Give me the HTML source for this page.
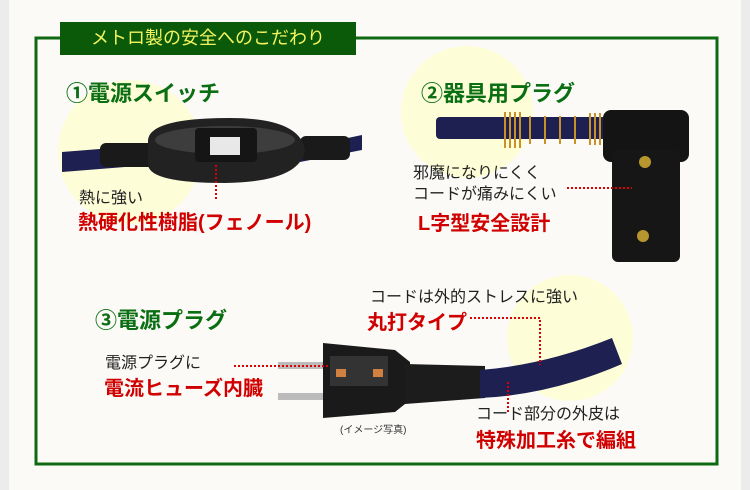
<!DOCTYPE html>
<html><head><meta charset="utf-8"><style>
body{margin:0;width:750px;height:490px;background:#fbfaf7;position:relative;overflow:hidden;font-family:"Liberation Sans","Noto Sans CJK JP",sans-serif}
.a{position:absolute;white-space:nowrap}
.g{color:#0a6e12;font-weight:bold;font-size:22px}
.r{color:#d00000;font-weight:bold;font-size:20px}
.k{color:#222;font-size:16px}
</style></head><body>
<div class="a" style="left:0;top:0;width:9px;height:490px;background:#ececec"></div>
<div class="a" style="left:741px;top:0;width:9px;height:490px;background:#ececec"></div>
<svg class="a" style="left:0;top:0" width="750" height="490">
<circle cx="130" cy="152" r="72" fill="#fdfdd8"/>
<circle cx="467" cy="112" r="66" fill="#fdfdd8"/>
<circle cx="570" cy="338" r="63" fill="#fdfdd8"/>
<polyline points="60,38 36,38 36,464 717,464 717,38 356,38" fill="none" stroke="#0d6a12" stroke-width="3"/>
<!-- switch -->
<path d="M62 152 L150 145 L150 165 L62 172 Z" fill="#1d2050"/>
<path d="M300 148 L362 135 L362 150 L300 162 Z" fill="#1d2050"/>
<rect x="100" y="143" width="55" height="24" rx="6" fill="#1a1a1a"/>
<rect x="300" y="136" width="50" height="24" rx="6" fill="#1a1a1a"/>
<path d="M148 140 Q150 118 230 118 Q300 118 305 150 Q300 182 225 183 Q150 183 148 165 Z" fill="#222"/>
<ellipse cx="225" cy="140" rx="70" ry="14" fill="#3d3d3d"/>
<rect x="195" y="128" width="62" height="34" rx="4" fill="#151515"/>
<rect x="210" y="137" width="30" height="18" fill="#e8e8e8"/>
<line x1="216" y1="165" x2="216" y2="200" stroke="#d00" stroke-width="2" stroke-dasharray="2 2"/>
<!-- L plug -->
<rect x="436" y="117" width="170" height="22" rx="4" fill="#1d2050"/>
<g stroke="#c8922a" stroke-width="2" fill="none">
<path d="M505 112v36M510 112v36M515 112v36M520 112v36M530 116v28M545 116v28M560 116v28M575 116v28M590 113v32M595 113v32M600 113v32"/></g>
<rect x="603" y="110" width="86" height="52" rx="8" fill="#141414"/>
<rect x="612" y="150" width="68" height="112" rx="6" fill="#161616"/>
<circle cx="645" cy="162" r="6" fill="#b8962e"/><circle cx="643" cy="236" r="6" fill="#b8962e"/>
<line x1="567" y1="188" x2="632" y2="188" stroke="#d00" stroke-width="2" stroke-dasharray="2 2"/>
<!-- power plug -->
<rect x="278" y="362" width="48" height="7" fill="#bbb"/>
<rect x="278" y="393" width="48" height="7" fill="#bbb"/>
<path d="M323 343 L395 350 L410 362 L410 400 L395 412 L323 418 Z" fill="#1a1a1a"/>
<rect x="330" y="356" width="58" height="30" fill="#333"/>
<rect x="336" y="369" width="10" height="8" fill="#d08040"/><rect x="373" y="369" width="10" height="8" fill="#d08040"/>
<path d="M405 364 L485 366 L485 398 L405 404 Z" fill="#1c1c1c"/>
<path d="M480 370 Q545 365 612 338 L622 364 Q550 395 480 398 Z" fill="#1d2050"/>
<line x1="234" y1="366" x2="330" y2="366" stroke="#d00" stroke-width="2" stroke-dasharray="2 2"/>
<polyline points="470,318 540,318 540,365" fill="none" stroke="#d00" stroke-width="2" stroke-dasharray="2 2"/>
<line x1="508" y1="382" x2="508" y2="412" stroke="#d00" stroke-width="2" stroke-dasharray="2 2"/>
</svg>
<div class="a" style="left:60px;top:22px;width:296px;height:33px;background:#0a5a0a;color:#f4f460;font-size:18px;line-height:33px;text-align:center">メトロ製の安全へのこだわり</div>
<div class="a g" style="left:66px;top:76px">①電源スイッチ</div>
<div class="a k" style="left:79px;top:184px">熱に強い</div>
<div class="a r" style="left:78px;top:206px">熱硬化性樹脂(フェノール)</div>
<div class="a g" style="left:421px;top:76px">②器具用プラグ</div>
<div class="a k" style="left:413px;top:159px">邪魔になりにくく</div>
<div class="a k" style="left:413px;top:180px">コードが痛みにくい</div>
<div class="a r" style="left:418px;top:207px">L字型安全設計</div>
<div class="a g" style="left:95px;top:303px">③電源プラグ</div>
<div class="a k" style="left:370px;top:283px">コードは外的ストレスに強い</div>
<div class="a r" style="left:367px;top:306px">丸打タイプ</div>
<div class="a k" style="left:105px;top:349px">電源プラグに</div>
<div class="a r" style="left:104px;top:372px">電流ヒューズ内臓</div>
<div class="a" style="left:340px;top:421px;font-size:10px;color:#333">(イメージ写真)</div>
<div class="a k" style="left:476px;top:400px">コード部分の外皮は</div>
<div class="a r" style="left:476px;top:424px">特殊加工糸で編組</div>
</body></html>
